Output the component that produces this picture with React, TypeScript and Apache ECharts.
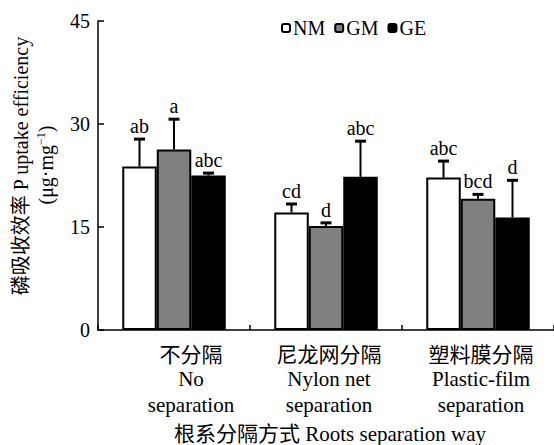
import React, { useEffect, useRef } from "react";
import * as echarts from "echarts";

const catCn = ["不分隔", "尼龙网分隔", "塑料膜分隔"];
const catEn1 = ["No", "Nylon net", "Plastic-film"];
const catEn2 = ["separation", "separation", "separation"];

const seriesNames = ["NM", "GM", "GE"];
const seriesColors = ["#ffffff", "#808080", "#000000"];

const nmValues = [23.8, 17.1, 22.2];
const nmErr = [4.0, 1.25, 2.4];
const nmLetters = ["ab", "cd", "abc"];

const gmValues = [26.3, 15.15, 19.1];
const gmErr = [4.4, 0.45, 0.65];
const gmLetters = ["a", "d", "bcd"];

const geValues = [22.5, 22.3, 16.4];
const geErr = [0.35, 5.2, 5.4];
const geLetters = ["abc", "abc", "d"];

const yTicks = [0, 15, 30, 45];

const FONT = "'Liberation Serif', 'Noto Sans CJK SC', serif";
const FONT_EN = "Liberation Serif";
const FONT_CJK = "Noto Sans CJK SC";

export default function App() {
  const ref = useRef<HTMLDivElement>(null);
  useEffect(() => {
    if (!ref.current) return;
    const chart = echarts.init(ref.current, null, { renderer: "svg" });
    const allValues = [nmValues, gmValues, geValues];
    const allErr = [nmErr, gmErr, geErr];
    const allLetters = [nmLetters, gmLetters, geLetters];
    const barW = 34.5;

    const errRows: number[][] = [];
    const errLetters: string[] = [];
    for (let s = 0; s < 3; s++) {
      for (let c = 0; c < 3; c++) {
        errRows.push([c, s, allValues[s][c], allErr[s][c]]);
        errLetters.push(allLetters[s][c]);
      }
    }

    const baseGraphic: any[] = [
      {
        type: "text",
        x: 21,
        y: 166,
        rotation: Math.PI / 2,
        style: {
          text: "磷吸收效率 P uptake efficiency",
          fontSize: 20,
          fontFamily: FONT,
          fill: "#000",
          align: "center",
          verticalAlign: "middle",
        },
      },
      {
        type: "text",
        x: 46,
        y: 165,
        rotation: Math.PI / 2,
        style: {
          text: "(μg·mg{s|−1})",
          fontSize: 20,
          fontFamily: FONT,
          fill: "#000",
          align: "center",
          verticalAlign: "middle",
          rich: {
            s: { fontSize: 12, fontFamily: FONT, fill: "#000", padding: [0, 0, 10, 0] },
          },
        },
      },
      {
        type: "text",
        x: 330,
        y: 434,
        style: {
          text: "根系分隔方式 Roots separation way",
          fontSize: 21,
          fontFamily: FONT,
          fill: "#000",
          align: "center",
          verticalAlign: "middle",
        },
      },
    ];

    const option: any = {
      animation: false,
      grid: { left: 98, right: 0, top: 21, bottom: 115, containLabel: false },
      legend: {
        data: seriesNames,
        left: 276,
        top: 13,
        itemWidth: 8,
        itemHeight: 8,
        itemGap: 9,
        icon: "roundRect",
        textStyle: { fontSize: 20, fontFamily: FONT, color: "#000", padding: [0, 0, 0, -2] },
      },
      xAxis: {
        type: "category",
        data: catCn,
        axisLine: { show: true, lineStyle: { color: "#000", width: 1.5 } },
        axisTick: { show: true, inside: true, length: 5, lineStyle: { color: "#000", width: 1.5 } },
        axisLabel: { show: false },
      },
      yAxis: {
        type: "value",
        min: yTicks[0],
        max: yTicks[yTicks.length - 1],
        interval: yTicks[1] - yTicks[0],
        splitLine: { show: false },
        axisLine: { show: true, lineStyle: { color: "#000", width: 1.5 } },
        axisTick: { show: true, inside: true, length: 6, lineStyle: { color: "#000", width: 1.5 } },
        axisLabel: { fontSize: 20, fontFamily: FONT, color: "#000", margin: 8 },
      },
      graphic: baseGraphic,
      series: [
        ...seriesNames.map((name, s) => ({
          name,
          type: "bar",
          data: allValues[s],
          barWidth: barW,
          barGap: "0%",
          itemStyle: { color: seriesColors[s], borderColor: "#000", borderWidth: 2 },
          z: 2,
        })),
        {
          type: "custom",
          z: 5,
          data: errRows,
          encode: { x: 0, y: 2 },
          renderItem: (params: any, api: any) => {
            const c = api.value(0);
            const s = api.value(1);
            const v = api.value(2);
            const e = api.value(3);
            const base = api.coord([c, v]);
            const top = api.coord([c, v + e]);
            const x = base[0] + (s - 1) * barW;
            return {
              type: "group",
              children: [
                {
                  type: "line",
                  shape: { x1: x, y1: base[1], x2: x, y2: top[1] },
                  style: { stroke: "#000", lineWidth: 2 },
                },
                {
                  type: "line",
                  shape: { x1: x - 5.5, y1: top[1], x2: x + 5.5, y2: top[1] },
                  style: { stroke: "#000", lineWidth: 3 },
                },
                {
                  type: "text",
                  x,
                  y: top[1] - 3,
                  style: {
                    text: errLetters[params.dataIndex],
                    fontSize: 20,
                    fontFamily: FONT,
                    fill: "#000",
                    align: "center",
                    verticalAlign: "bottom",
                  },
                },
              ],
            };
          },
        },
      ],
    };
    chart.setOption(option);

    // x-axis category labels, positioned through the axis scale
    const labelShift = [17, 3, 3];
    const axisY = chart.convertToPixel({ yAxisIndex: 0 }, 0) as number;
    const labelGraphic: any[] = [];
    catCn.forEach((cn, i) => {
      const cx = (chart.convertToPixel({ xAxisIndex: 0 }, i) as number) + labelShift[i];
      [cn, catEn1[i], catEn2[i]].forEach((line, k) => {
        labelGraphic.push({
          type: "text",
          x: cx,
          y: axisY + 23 + k * 26,
          style: {
            text: line,
            fontSize: 21,
            fontFamily: k === 0 ? FONT_CJK : FONT_EN,
            fill: "#000",
            align: "center",
            verticalAlign: "middle",
          },
        });
      });
    });
    chart.setOption({ graphic: [...baseGraphic, ...labelGraphic] });

    return () => chart.dispose();
  }, []);
  return <div ref={ref} style={{ width: 554, height: 445, position: "absolute", left: 0, top: 0, background: "#fff" }} />;
}
